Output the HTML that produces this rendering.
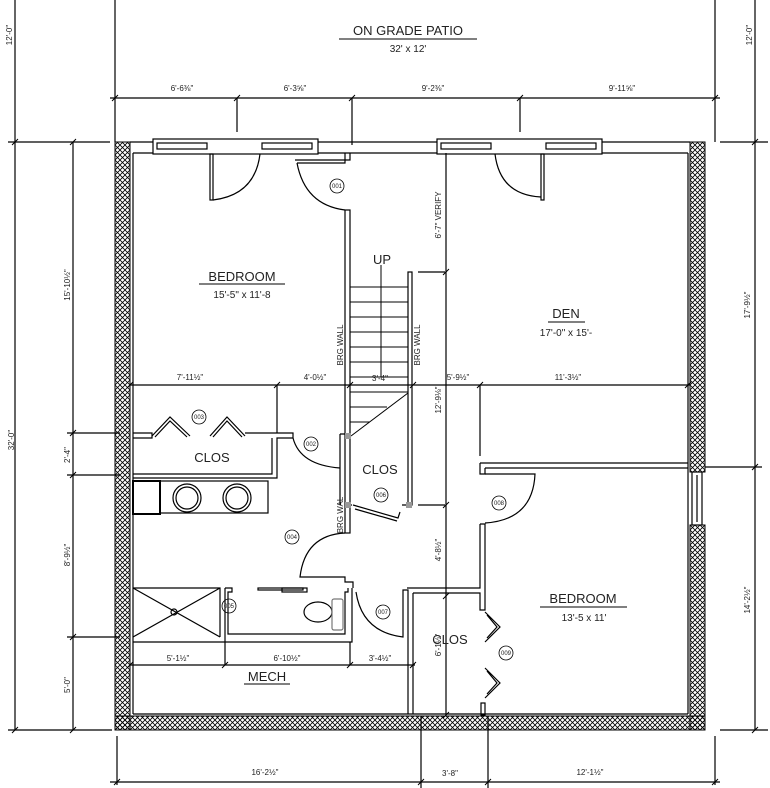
<!DOCTYPE html>
<html><head><meta charset="utf-8"><style>
html,body{margin:0;padding:0;background:#fff;}
svg{display:block;font-family:"Liberation Sans",sans-serif;}
text{fill:#222;}
</style></head><body>
<svg width="770" height="788" viewBox="0 0 770 788" xmlns="http://www.w3.org/2000/svg">
<defs>
<pattern id="h" width="5" height="5" patternUnits="userSpaceOnUse">
<path d="M0 0L5 5M5 0L0 5" stroke="#000" stroke-width="0.8"/>
</pattern>
</defs>
<g stroke="#000" fill="none" stroke-width="1.2">
<line x1="115" y1="0" x2="115" y2="142"/>
<line x1="715" y1="0" x2="715" y2="142"/>
<line x1="110" y1="98" x2="720" y2="98"/>
<line x1="237" y1="98" x2="237" y2="132"/>
<line x1="352" y1="98" x2="352" y2="145"/>
<line x1="520" y1="98" x2="520" y2="132"/>
<line x1="8" y1="142" x2="110" y2="142"/>
<line x1="15" y1="0" x2="15" y2="142"/>
<line x1="15" y1="142" x2="15" y2="730"/>
<line x1="73" y1="142" x2="73" y2="730"/>
<line x1="67" y1="433" x2="120" y2="433"/>
<line x1="67" y1="475" x2="120" y2="475"/>
<line x1="67" y1="637" x2="120" y2="637"/>
<line x1="8" y1="730" x2="112" y2="730"/>
<line x1="720" y1="142" x2="768" y2="142"/>
<line x1="755" y1="0" x2="755" y2="730"/>
<line x1="705" y1="467" x2="762" y2="467"/>
<line x1="720" y1="730" x2="768" y2="730"/>
<line x1="110" y1="782" x2="720" y2="782"/>
<line x1="117" y1="736" x2="117" y2="785"/>
<line x1="421" y1="716" x2="421" y2="788"/>
<line x1="488" y1="716" x2="488" y2="788"/>
<line x1="715" y1="736" x2="715" y2="785"/>
</g>
<g stroke="#000" stroke-width="1">
<path d="M112 101l6-6M234 101l6-6M349 101l6-6M517 101l6-6M712 101l6-6"/>
<path d="M12 145l6-6M70 145l6-6M70 436l6-6M70 478l6-6M70 640l6-6M12 733l6-6M70 733l6-6"/>
<path d="M752 145l6-6M752 470l6-6M752 733l6-6"/>
<path d="M114 785l6-6M418 785l6-6M485 785l6-6M712 785l6-6"/>
</g>
<rect x="115" y="142" width="15" height="588" fill="url(#h)" stroke="#000"/>
<rect x="690" y="142" width="15" height="330" fill="url(#h)" stroke="#000"/>
<rect x="690" y="525" width="15" height="205" fill="url(#h)" stroke="#000"/>
<rect x="115" y="716" width="590" height="14" fill="url(#h)" stroke="#000"/>
<g stroke="#000" fill="none" stroke-width="1.2">
<rect x="692" y="472" width="10" height="53" fill="#fff"/>
<line x1="697" y1="475" x2="697" y2="522"/>
<line x1="130" y1="142" x2="690" y2="142"/>
<line x1="133" y1="153" x2="688" y2="153"/>
<line x1="133" y1="153" x2="133" y2="714"/>
<line x1="688" y1="153" x2="688" y2="714"/>
<line x1="133" y1="714" x2="688" y2="714"/>
<rect x="153" y="139" width="165" height="15" fill="#fff"/>
<rect x="157" y="143" width="50" height="6"/><rect x="262" y="143" width="50" height="6"/>
<rect x="437" y="139" width="165" height="15" fill="#fff"/>
<rect x="441" y="143" width="50" height="6"/><rect x="546" y="143" width="50" height="6"/>
<rect x="210" y="154" width="3" height="46"/>
<path d="M213 200Q255 195 260 154"/>
<rect x="541" y="154" width="3" height="46"/>
<path d="M541 197Q500 195 495 154"/>
<path d="M295 160H350V153M297 163H345V153"/>
<path d="M297 163Q305 205 345 210"/>
<rect x="345" y="210" width="5" height="323"/>
<rect x="408" y="272" width="4" height="233"/>
<line x1="418" y1="272" x2="445" y2="272"/>
<g stroke-width="1">
<line x1="350" y1="287" x2="408" y2="287"/><line x1="350" y1="302" x2="408" y2="302"/>
<line x1="350" y1="317" x2="408" y2="317"/><line x1="350" y1="332" x2="408" y2="332"/>
<line x1="350" y1="347" x2="408" y2="347"/><line x1="350" y1="362" x2="408" y2="362"/>
<line x1="350" y1="377" x2="408" y2="377"/><line x1="350" y1="392" x2="408" y2="392"/>
<line x1="350" y1="407" x2="387" y2="407"/><line x1="350" y1="422" x2="370" y2="422"/>
<line x1="351" y1="436" x2="408" y2="393"/>
<line x1="381" y1="265" x2="381" y2="377"/>
</g>
<path d="M340 434H345M340 434V505M346 505H352M402 505H408"/>
<path d="M353 505L398 518L400 512"/>
<path d="M355 509L397 521"/>
<line x1="418" y1="505" x2="445" y2="505"/>
<line x1="130" y1="385" x2="690" y2="385"/>
<line x1="277" y1="385" x2="277" y2="433"/>
<line x1="480" y1="385" x2="480" y2="456"/>
<line x1="446" y1="153" x2="446" y2="715"/>
</g>
<g stroke="#000" stroke-width="1">
<path d="M127 388l6-6M274 388l6-6M347 388l6-6M410 388l6-6M477 388l6-6M685 388l6-6"/>
<path d="M443 275l6-6M443 508l6-6M443 599l6-6M443 718l6-6"/>
</g>
<g stroke="#000" fill="none" stroke-width="1.2">
<path d="M133 433H152V438H133M245 433H293V438H277V478H133M272 438V474H133"/>
<path d="M152 436L170 417L190 436M155 437L170 421L187 437"/>
<path d="M210 436L227 417L245 436M213 437L227 421L242 437"/>
<path d="M293 438Q300 465 340 468"/>
<rect x="133" y="481" width="27" height="33" stroke-width="2"/>
<rect x="160" y="481" width="108" height="32"/>
<circle cx="187" cy="498" r="14"/><circle cx="187" cy="498" r="11"/>
<circle cx="237" cy="498" r="14"/><circle cx="237" cy="498" r="11"/>
<path d="M345 533Q305 535 300 577H345V582H353V588"/>
<path d="M133 588H220V637M133 588L220 637M220 588L133 637"/>
<circle cx="174" cy="612" r="3"/>
<path d="M225 588H232V592H228V634H345V592H348V588"/>
<path d="M225 588V642"/>
<path d="M133 642H352V588"/>
<rect x="258" y="588" width="45" height="2"/>
<rect x="282" y="588" width="25" height="4"/>
<ellipse cx="318" cy="612" rx="14" ry="10"/>
<rect x="332" y="599" width="11" height="31" rx="2" stroke="#777"/>
<path d="M356 592Q362 632 403 637V590H408V714"/>
<path d="M413 593V714"/>
<line x1="130" y1="665" x2="415" y2="665"/>
<line x1="225" y1="642" x2="225" y2="665"/>
<line x1="350" y1="642" x2="350" y2="665"/>
</g>
<g stroke="#000" stroke-width="1">
<path d="M127 668l6-6M222 668l6-6M347 668l6-6M410 668l6-6"/>
</g>
<g stroke="#000" fill="none" stroke-width="1.2">
<path d="M480 463H688M485 468H688M480 463V474H485V468"/>
<path d="M485 474H535Q533 520 485 523"/>
<path d="M480 524H485V610H480V593H413M480 524V588H407"/>
<path d="M485 612L500 627L485 642M487 615L497 627L487 638"/>
<path d="M485 668L500 683L485 698M487 671L497 683L487 694"/>
<rect x="481" y="703" width="4" height="12"/>
</g>
<g fill="#999"><rect x="345" y="433" width="6" height="6"/><rect x="345" y="502" width="6" height="6"/><rect x="406" y="502" width="6" height="6"/></g>
<g font-size="13" text-anchor="middle">
<text x="408" y="35">ON GRADE PATIO</text>
<text x="242" y="281">BEDROOM</text>
<text x="566" y="318">DEN</text>
<text x="212" y="462">CLOS</text>
<text x="380" y="474">CLOS</text>
<text x="267" y="681">MECH</text>
<text x="583" y="603">BEDROOM</text>
<text x="450" y="644">CLOS</text>
<text x="382" y="264">UP</text>
</g>
<g stroke="#000" stroke-width="1">
<line x1="339" y1="39" x2="477" y2="39"/>
<line x1="199" y1="284" x2="285" y2="284"/>
<line x1="548" y1="322" x2="585" y2="322"/>
<line x1="244" y1="684" x2="290" y2="684"/>
<line x1="540" y1="607" x2="627" y2="607"/>
</g>
<g font-size="10" text-anchor="middle">
<text x="408" y="52">32' x 12'</text>
<text x="242" y="298">15'-5"  x 11'-8</text>
<text x="566" y="336">17'-0"  x 15'-</text>
<text x="584" y="621">13'-5  x 11'</text>
</g>
<g font-size="8" text-anchor="middle" fill="#333">
<text x="182" y="91">6'-6⅜"</text><text x="295" y="91">6'-3⅝"</text>
<text x="433" y="91">9'-2⅜"</text><text x="622" y="91">9'-11⅝"</text>
<text x="190" y="380">7'-11½"</text><text x="315" y="380">4'-0½"</text>
<text x="380" y="381">3'-4"</text><text x="458" y="380">5'-9½"</text>
<text x="568" y="380">11'-3½"</text>
<text x="178" y="661">5'-1½"</text><text x="287" y="661">6'-10½"</text><text x="380" y="661">3'-4½"</text>
<text x="265" y="775">16'-2½"</text><text x="450" y="776">3'-8"</text><text x="590" y="775">12'-1½"</text>
<text transform="translate(12 35) rotate(-90)">12'-0"</text>
<text transform="translate(752 35) rotate(-90)">12'-0"</text>
<text transform="translate(14 440) rotate(-90)">32'-0"</text>
<text transform="translate(70 285) rotate(-90)">15'-10½"</text>
<text transform="translate(70 455) rotate(-90)">2'-4"</text>
<text transform="translate(70 555) rotate(-90)">8'-9½"</text>
<text transform="translate(70 685) rotate(-90)">5'-0"</text>
<text transform="translate(750 305) rotate(-90)">17'-9½"</text>
<text transform="translate(750 600) rotate(-90)">14'-2½"</text>
<text transform="translate(441 215) rotate(-90)">6'-7" VERIFY</text>
<text transform="translate(441 400) rotate(-90)">12'-9⅛"</text>
<text transform="translate(441 550) rotate(-90)">4'-8½"</text>
<text transform="translate(441 645) rotate(-90)">6'-1½"</text>
<text transform="translate(343 345) rotate(-90)">BRG WALL</text>
<text transform="translate(420 345) rotate(-90)">BRG WALL</text>
<text transform="translate(343 515) rotate(-90)">BRG WAL</text>
</g>
<g font-size="6" text-anchor="middle" stroke-width="0.8">
<g stroke="#000" fill="none">
<circle cx="337" cy="186" r="7"/><circle cx="311" cy="444" r="7"/><circle cx="199" cy="417" r="7"/>
<circle cx="292" cy="537" r="7"/><circle cx="229" cy="606" r="7"/><circle cx="381" cy="495" r="7"/>
<circle cx="383" cy="612" r="7"/><circle cx="499" cy="503" r="7"/><circle cx="506" cy="653" r="7"/>
</g>
<text x="337" y="188">001</text><text x="311" y="446">002</text><text x="199" y="419">003</text>
<text x="292" y="539">004</text><text x="229" y="608">005</text><text x="381" y="497">006</text>
<text x="383" y="614">007</text><text x="499" y="505">008</text><text x="506" y="655">009</text>
</g>
</svg>
</body></html>
